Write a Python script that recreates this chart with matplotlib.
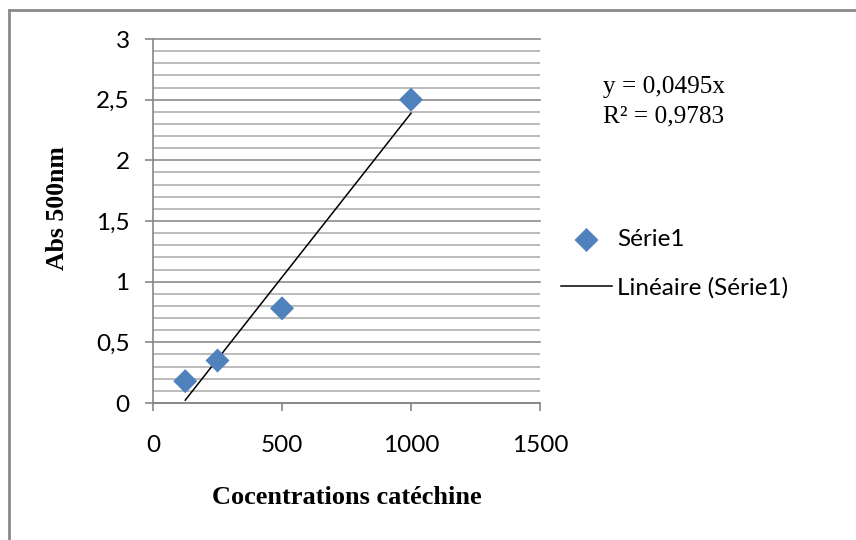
import matplotlib
matplotlib.use("Agg")
import matplotlib.pyplot as plt
import numpy as np
from matplotlib.lines import Line2D
from matplotlib.ticker import MultipleLocator

# catechin calibration data
conc = [125, 250, 500, 1000]
absorb = [0.18, 0.35, 0.78, 2.5]

x_ticks = [0, 500, 1000, 1500]
x_tick_labels = ["0", "500", "1000", "1500"]
y_ticks = [0, 0.5, 1, 1.5, 2, 2.5, 3]
y_tick_labels = ["0", "0,5", "1", "1,5", "2", "2,5", "3"]

eq_text = "y = 0,0495x"
r2_text = "R² = 0,9783"

W, H = 856, 540
sans = "Lato"
serif = "Liberation Serif"
grey = "#868686"

fig = plt.figure(figsize=(W / 100, H / 100), dpi=100)

def px(x, y):
    # pixel position -> figure fraction
    return x / W, 1 - y / H

ax = fig.add_axes([153 / W, 1 - 403 / H, 387 / W, 364 / H])

ax.scatter(conc, absorb, marker="D", s=150, color="#4f81bd", zorder=3,
           label="Série1", edgecolors="none")

# linear trend line over the data range
slope, icpt = np.polyfit(conc, absorb, 1)
xs = np.array([min(conc), max(conc)])
ax.plot(xs, slope * xs + icpt, color="black", lw=1.1, zorder=2,
        label="Linéaire (Série1)")

ax.set_xlim(0, 1500)
ax.set_ylim(0, 3)
ax.set_xticks(x_ticks)
ax.set_xticklabels(x_tick_labels)
ax.set_yticks(y_ticks)
ax.set_yticklabels(y_tick_labels)
ax.yaxis.set_minor_locator(MultipleLocator(0.1))

ax.grid(which="major", axis="y", color="#8c8c8c", lw=1.2)
ax.grid(which="minor", axis="y", color="#a8a8a8", lw=1.1)
ax.set_axisbelow(True)
for gl in ax.get_ygridlines():
    gl.set_clip_on(False)

for side in ["top", "right"]:
    ax.spines[side].set_visible(False)
for side in ["left", "bottom"]:
    ax.spines[side].set_color(grey)
    ax.spines[side].set_linewidth(1.2)

ax.tick_params(which="major", length=5.8, width=1.2, color=grey,
               labelsize=17.5, labelcolor="black")
ax.tick_params(axis="x", pad=17)
ax.tick_params(axis="y", pad=11)
ax.tick_params(which="minor", left=False, bottom=False)
for lab in ax.get_xticklabels() + ax.get_yticklabels():
    lab.set_family(sans)

ax.set_xlabel("Cocentrations catéchine", family=serif, weight="bold",
              fontsize=19)
ax.xaxis.set_label_coords(0.5, (403 - 498) / 364)
ax.xaxis.label.set_va("center")
ax.set_ylabel("Abs 500nm", family=serif, weight="bold", fontsize=18.5)
ax.yaxis.set_label_coords((57.5 - 153) / 387, (403 - 208) / 364)
ax.yaxis.label.set_va("center")

# trend line equation
fig.text(*px(603, 87), eq_text, family=serif, fontsize=18.2, va="center")
fig.text(*px(603, 116), r2_text, family=serif, fontsize=18.2, va="center")

leg = ax.legend(loc="center left", bbox_to_anchor=px(561, 264),
                bbox_transform=fig.transFigure, frameon=False,
                borderpad=0, borderaxespad=0, handlelength=2.1,
                handletextpad=0.2, labelspacing=1.1, scatterpoints=1,
                prop={"family": sans, "size": 17.5})

# chart border
fig.add_artist(Line2D([9 / W, 1.0], [1 - 10 / H] * 2, color="#8a8a8a", lw=2))
fig.add_artist(Line2D([9 / W] * 2, [0.0, 1 - 10 / H], color="#8a8a8a", lw=2))

fig.savefig("out.png", dpi=100)
